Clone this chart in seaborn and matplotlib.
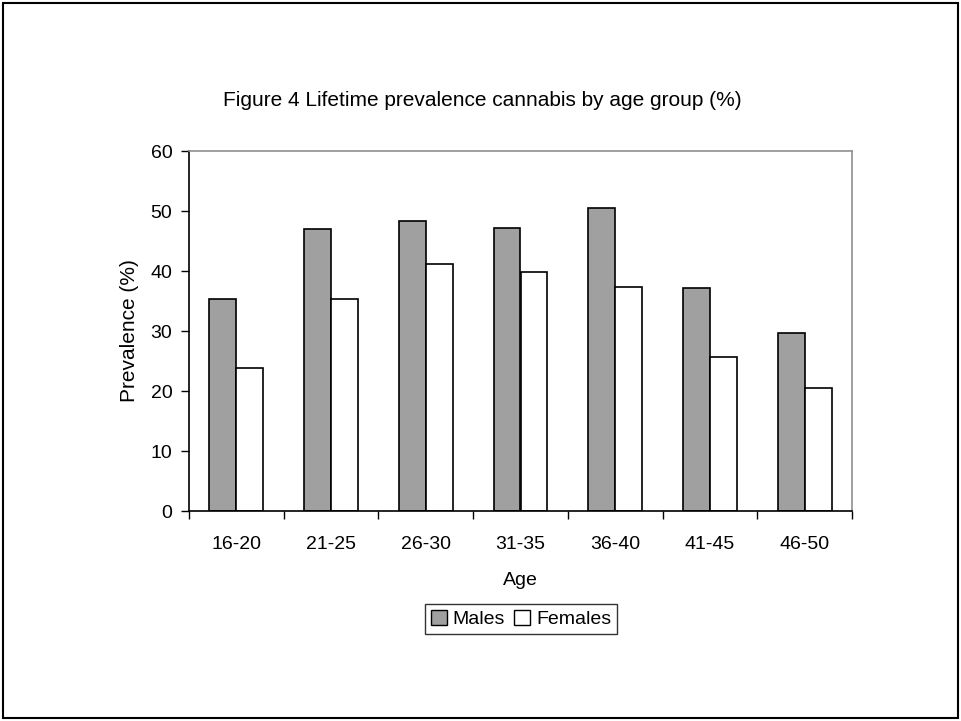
import matplotlib
matplotlib.use("Agg")
import matplotlib.pyplot as plt
from matplotlib.patches import Rectangle, Patch
from matplotlib.ticker import FixedLocator, NullFormatter
import pandas as pd
import seaborn as sns

age_groups = ["16-20", "21-25", "26-30", "31-35", "36-40", "41-45", "46-50"]
males = [35.4, 47.0, 48.3, 47.2, 50.5, 37.2, 29.7]
females = [23.8, 35.3, 41.1, 39.8, 37.3, 25.6, 20.5]
series = ["Males", "Females"]

df = pd.DataFrame({
    "Age": age_groups * 2,
    "Prevalence": males + females,
    "Sex": [series[0]] * len(age_groups) + [series[1]] * len(age_groups),
})

sns.set_style("white")
plt.rcParams["font.family"] = ["Liberation Sans", "DejaVu Sans"]
plt.rcParams.update({"text.color": "black", "axes.labelcolor": "black",
                     "xtick.color": "black", "ytick.color": "black"})

fig = plt.figure(figsize=(9.61, 7.21), dpi=100)
ax = fig.add_axes([189 / 961, 1 - 511 / 721, 663 / 961, 360 / 721])

male_color = "#a0a0a0"
sns.barplot(data=df, x="Age", y="Prevalence", hue="Sex", order=age_groups,
            hue_order=series, palette=[male_color, "white"], width=0.57,
            edgecolor="black", linewidth=1.2, saturation=1, legend=False, ax=ax)

ax.set_xlim(-0.5, len(age_groups) - 0.5)
ax.set_ylim(0, 60)
ax.set_yticks(range(0, 61, 10))

# category separators as outward ticks on the x axis
ax.tick_params(axis="x", which="major", length=0, pad=18, labelsize=14)
ax.xaxis.set_minor_locator(FixedLocator([i - 0.5 for i in range(len(age_groups) + 1)]))
ax.xaxis.set_minor_formatter(NullFormatter())
ax.tick_params(axis="x", which="minor", length=6, width=1, direction="out", bottom=True)
ax.tick_params(axis="y", length=6, width=1, direction="out", left=True, pad=6, labelsize=14)

for side in ["left", "bottom"]:
    ax.spines[side].set_color("black")
    ax.spines[side].set_linewidth(1.2)
for side in ["top", "right"]:
    ax.spines[side].set_visible(True)
    ax.spines[side].set_color("#909090")
    ax.spines[side].set_linewidth(1.2)

ax.set_xlabel("Age", fontsize=14, labelpad=14)
ax.set_ylabel("Prevalence (%)", fontsize=15, labelpad=8)

fig.text(482 / 961, 1 - 100 / 721, "Figure 4 Lifetime prevalence cannabis by age group (%)",
         ha="center", va="center", fontsize=15)

handles = [Patch(facecolor=male_color, edgecolor="black", linewidth=1),
           Patch(facecolor="white", edgecolor="black", linewidth=1)]
leg = fig.legend(handles, series, loc="center", bbox_to_anchor=(521 / 961, 1 - 619 / 721),
                 ncol=2, frameon=True, fancybox=False, fontsize=14,
                 handlelength=0.8, handleheight=0.8, handletextpad=0.3,
                 columnspacing=0.5, borderpad=0.3, borderaxespad=0)
leg.get_frame().set_edgecolor("black")
leg.get_frame().set_linewidth(1)

fig.patches.append(Rectangle((3 / 961, 3 / 721), 955 / 961, 715 / 721,
                             transform=fig.transFigure, fill=False,
                             edgecolor="black", linewidth=1.5))

fig.savefig("out.png", dpi=100)
